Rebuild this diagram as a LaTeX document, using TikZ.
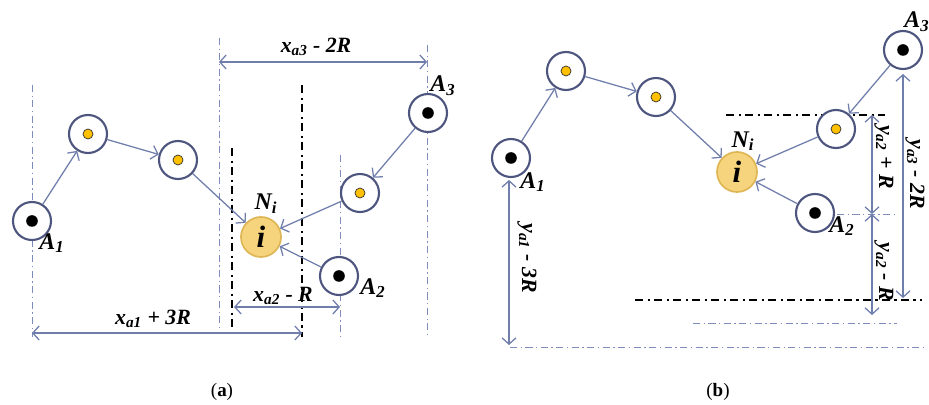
\documentclass[tikz,border=0pt]{standalone}
\usepackage{fontspec}
\setmainfont{Liberation Serif}
\usetikzlibrary{arrows.meta,positioning}
\definecolor{ringblue}  {RGB}{78,86,128}
\definecolor{arrowblue} {RGB}{112,126,172}
\definecolor{guideblue} {RGB}{125,140,188}
\definecolor{dotyellow} {RGB}{255,192,0}
\definecolor{targetfill}{RGB}{246,212,125}
\definecolor{targetedge}{RGB}{222,182,86}
\tikzset{
  agent/.style  ={circle, draw=ringblue, line width=1.5pt, fill=white,
                  minimum size=0.95cm, inner sep=0pt},
  anchorag/.style={agent, path picture={\fill[black]
                  (path picture bounding box.center) circle (0.145cm);}},
  relay/.style  ={agent, path picture={\filldraw[fill=dotyellow, draw=black!80,
                  line width=0.5pt] (path picture bounding box.center) circle (0.125cm);}},
  target/.style ={circle, draw=targetedge, line width=1.2pt, fill=targetfill,
                  minimum size=1.0cm, inner sep=0pt,
                  font=\fontsize{22}{22}\selectfont\bfseries\itshape},
  hop/.style    ={-{Straight Barb[length=4.5pt,width=10pt]}, arrowblue, line width=0.9pt},
  dim/.style    ={{Straight Barb[length=4.5pt,width=10pt]}-{Straight Barb[length=4.5pt,width=10pt]},
                  arrowblue, line width=0.9pt},
  guide/.style  ={guideblue, line width=0.6pt,
                  dash pattern=on 5pt off 2.5pt on 1pt off 2.5pt},
  bound/.style  ={black, line width=1.4pt,
                  dash pattern=on 6pt off 3pt on 1.5pt off 3pt},
  lbl/.style    ={font=\fontsize{17}{17}\selectfont\bfseries\itshape, inner sep=0pt},
  dlbl/.style   ={font=\fontsize{15.5}{15.5}\selectfont\bfseries\itshape, inner sep=0pt},
}
\begin{document}
\begin{tikzpicture}[x=0.025cm, y=-0.025cm]
  \useasboundingbox (0,0) rectangle (929,405);

  %% (a) guide lines
  \draw[guide] (32,85)   -- (32,337);
  \draw[guide] (219,38)  -- (219,333);
  \draw[guide] (340,155) -- (340,338);
  \draw[guide] (427,45)  -- (427,338);
  \draw[bound] (232,148) -- (232,330);
  \draw[bound] (302,85)  -- (302,337);

  %% (a) agents
  \node[anchorag] (aA1) at (32,221)  {};
  \node[relay]    (ah1) at (88,134)  {};
  \node[relay]    (ah2) at (178,160) {};
  \node[target]   (aNi) at (261,237) {i};
  \node[relay]    (ah3) at (360,193) {};
  \node[anchorag] (aA3) at (428,113) {};
  \node[anchorag] (aA2) at (339,276) {};

  \node[lbl] at (52,243) {A\textsubscript{1}};
  \node[lbl] at (266,204) {N\textsubscript{i}};
  \node[lbl] at (443,86) {A\textsubscript{3}};
  \node[lbl] at (373,288) {A\textsubscript{2}};

  \draw[hop] (aA1) -- (ah1);
  \draw[hop] (ah1) -- (ah2);
  \draw[hop] (ah2) -- (aNi);
  \draw[hop] (aA3) -- (ah3);
  \draw[hop] (ah3) -- (aNi);
  \draw[hop] (aA2) -- (aNi);

  %% (a) distances
  \coordinate (xa3l) at (219,62);  \coordinate (xa3r) at (427,62);
  \coordinate (xa2l) at (234,307); \coordinate (xa2r) at (340,307);
  \coordinate (xa1l) at (32,333);  \coordinate (xa1r) at (302,333);
  \draw[dim] (xa3l) -- (xa3r);
  \draw[dim] (xa2l) -- (xa2r);
  \draw[dim] (xa1l) -- (xa1r);
  \node[dlbl] at (316,47)  {x\textsubscript{a3} - 2R};
  \node[dlbl] at (283,296) {x\textsubscript{a2} - R};
  \node[dlbl] at (153,319) {x\textsubscript{a1} + 3R};

  %% (b) guide lines
  \draw[bound] (726,115) -- (885,115);
  \draw[bound] (635,300) -- (922,300);
  \draw[guide] (837,214) -- (898,214);
  \draw[guide] (693,323) -- (897,323);
  \draw[guide] (510,347) -- (923,347);

  %% (b) agents
  \node[anchorag] (bA1) at (511,158) {};
  \node[relay]    (bh1) at (566,71)  {};
  \node[relay]    (bh2) at (656,97)  {};
  \node[target]   (bNi) at (737,172) {i};
  \node[relay]    (bh3) at (836,129) {};
  \node[anchorag] (bA3) at (903,50)  {};
  \node[anchorag] (bA2) at (815,213) {};

  \node[lbl] at (533,182) {A\textsubscript{1}};
  \node[lbl] at (743,141) {N\textsubscript{i}};
  \node[lbl] at (917,22)  {A\textsubscript{3}};
  \node[lbl] at (842,226) {A\textsubscript{2}};

  \draw[hop] (bA1) -- (bh1);
  \draw[hop] (bh1) -- (bh2);
  \draw[hop] (bh2) -- (bNi);
  \draw[hop] (bA3) -- (bh3);
  \draw[hop] (bh3) -- (bNi);
  \draw[hop] (bA2) -- (bNi);

  %% (b) distances
  \coordinate (ya1t) at (509,180); \coordinate (ya1b) at (509,345);
  \coordinate (ya2t) at (872,115); \coordinate (ya2m) at (872,214);
  \coordinate (ya2b) at (872,315);
  \coordinate (ya3t) at (903,74);  \coordinate (ya3b) at (903,298);
  \draw[dim] (ya1t) -- (ya1b);
  \draw[dim] (ya2t) -- (ya2m);
  \draw[dim] (ya2m) -- (ya2b);
  \draw[dim] (ya3t) -- (ya3b);
  \node[dlbl, rotate=-90] at (527,258) {y\textsubscript{a1} - 3R};
  \node[dlbl, rotate=-90] at (884,157) {y\textsubscript{a2} + R};
  \node[dlbl, rotate=-90] at (884,272) {y\textsubscript{a2} - R};
  \node[dlbl, rotate=-90] at (915,174) {y\textsubscript{a3} - 2R};

  %% captions
  \node[font=\fontsize{13.5}{13.5}\selectfont] (capa) at (222,392) {(\textbf{a})};
  \node[font=\fontsize{13.5}{13.5}\selectfont] (capb) at (718,392) {(\textbf{b})};
\end{tikzpicture}
\end{document}
